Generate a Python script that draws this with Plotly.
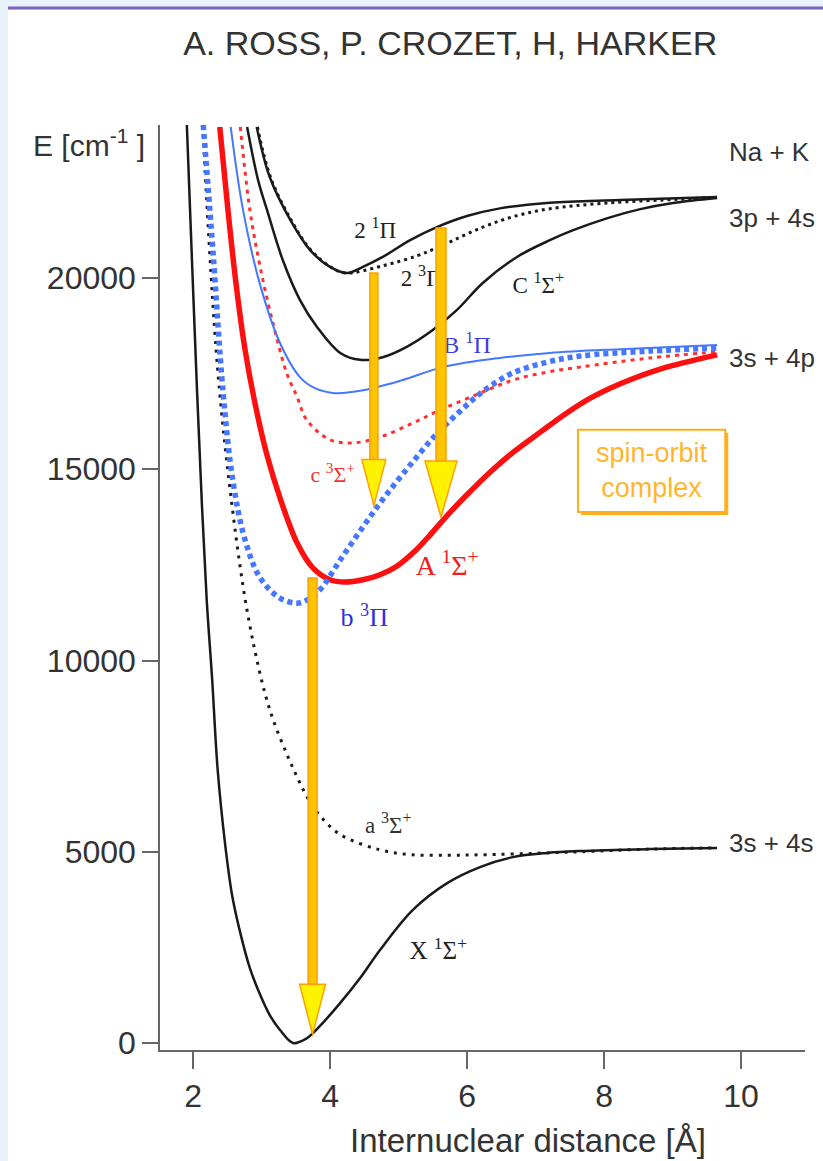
import plotly.graph_objects as go

# ---- potential curves of NaK: r in Angstrom, E in cm-1
X_r = [1.91, 1.99, 2.06, 2.13, 2.20, 2.28, 2.36, 2.47, 2.57, 2.69, 2.83, 2.98, 3.12, 3.27, 3.46, 3.64, 3.85,
       4.15, 4.44, 4.73, 5.21, 5.71, 6.19, 6.67, 7.17, 7.65, 8.67, 9.65]
X_E = [24000, 20210, 16990, 14070, 11580, 9490, 7140, 5180, 3870, 2880, 1960, 1260, 730, 340, 0, 100, 440,
       1050, 1700, 2430, 3480, 4180, 4600, 4860, 4970, 5020, 5070, 5100]

a_r = [2.14, 2.36, 2.58, 2.79, 3.02, 3.17, 3.37, 3.52, 3.66, 3.85, 4.15, 4.73, 5.21, 5.75, 6.19, 7.17, 7.65, 8.67, 9.65]
a_E = [24000, 17600, 13900, 11300, 9350, 8450, 7550, 6950, 6450, 5950, 5450, 5050, 4920, 4910, 4920, 4970, 5000,
       5070, 5100]

b_r = [2.15, 2.29, 2.44, 2.58, 2.76, 2.98, 3.27, 3.52, 3.66, 3.85, 4.15, 4.48, 4.80, 5.17, 5.53, 5.90, 6.26,
       6.67, 7.17, 7.65, 8.67, 9.65]
b_E = [24000, 20730, 16990, 14720, 13150, 12160, 11630, 11500, 11580, 11840, 12630, 13490, 14280, 15110, 15870,
       16520, 17070, 17520, 17800, 17960, 18090, 18170]

A_r = [2.39, 2.51, 2.63, 2.76, 2.91, 3.08, 3.27, 3.52, 3.75, 4.00, 4.22, 4.48, 4.73, 4.98, 5.24, 5.46, 5.68,
       5.97, 6.34, 6.70, 7.07, 7.43, 7.80, 8.23, 8.82, 9.65]
A_E = [23950, 21780, 19820, 18120, 16680, 15370, 14250, 13070, 12420, 12110, 12050, 12110, 12240, 12470, 12860,
       13280, 13730, 14280, 14930, 15480, 15970, 16440, 16860, 17230, 17620, 17990]

B_r = [2.55, 2.73, 2.98, 3.27, 3.56, 3.78, 4.07, 4.44, 5.02, 5.65, 6.48, 7.21, 8.23, 9.65]
B_E = [23950, 21780, 19820, 18300, 17410, 17120, 16990, 17050, 17310, 17670, 17910, 18040, 18140, 18250]

c_r = [2.69, 2.83, 2.98, 3.17, 3.37, 3.52, 3.66, 4.00, 4.34, 4.73, 5.21, 5.61, 6.19, 6.67, 7.17, 7.65, 8.67, 9.65]
c_E = [23950, 21780, 20290, 18800, 17500, 16890, 16290, 15770, 15690, 15840, 16210, 16550, 16990, 17330, 17540,
       17670, 17910, 18070]

C_r = [2.79, 2.95, 3.08, 3.31, 3.56, 3.81, 4.15, 4.44, 4.77, 5.12, 5.50, 5.85, 6.23, 6.73, 7.21, 7.55, 8.04,
       8.53, 9.01, 9.65]
C_E = [23950, 22560, 21780, 20470, 19430, 18720, 18040, 17860, 17930, 18200, 18640, 19160, 19870, 20550, 20990,
       21250, 21560, 21800, 21960, 22090]

P1_r = [2.93, 3.12, 3.42, 3.71, 4.00, 4.25, 4.48, 4.77, 5.17, 5.56, 6.00, 6.48, 7.21, 8.23, 9.65]
P1_E = [23950, 22640, 21520, 20730, 20290, 20130, 20290, 20550, 20990, 21330, 21620, 21820, 21970, 22040, 22120]

P3_r = [2.94, 3.13, 3.43, 3.72, 4.01, 4.22, 4.77, 5.27, 5.65, 6.23, 6.73, 7.21, 8.04, 9.11, 9.65]
P3_E = [23950, 22640, 21520, 20730, 20290, 20130, 20320, 20580, 20860, 21330, 21630, 21810, 21960, 22060, 22110]

# state labels
label_text = ["2 <sup>1</sup>Π", "2 <sup>3</sup>Π", "C <sup>1</sup>Σ<sup>+</sup>", "B <sup>1</sup>Π",
              "c <sup>3</sup>Σ<sup>+</sup>", "A <sup>1</sup>Σ<sup>+</sup>", "b <sup>3</sup>Π",
              "a <sup>3</sup>Σ<sup>+</sup>", "X <sup>1</sup>Σ<sup>+</sup>"]
label_r = [4.66, 5.34, 7.04, 6.00, 4.04, 5.71, 4.50, 4.85, 5.58]
label_E = [21200, 19950, 19770, 18200, 14800, 12420, 11060, 5650, 2350]

# asymptotes
asym_text = ["Na + K", "3p + 4s", "3s + 4p", "3s + 4s"]
asym_E = [23290, 21570, 17910, 5230]

# transitions (arrows)
arrow_r = [4.64, 5.62, 3.745]
arrow_top = [20130, 21310, 12160]
arrow_tip = [14050, 13750, 230]

# ---- styles
PX_X = 1 / 68.5     # Angstrom per pixel
PX_Y = 26.144       # cm-1 per pixel
SANS = "Liberation Sans, Arial, sans-serif"
SERIF = "Liberation Serif, Times New Roman, serif"
RED = "#ff1010"
BLUE = "#4577ff"
BLACK = "#1a1a1a"

fig = go.Figure()


def add_curve(r, E, color, width, dash="solid"):
    fig.add_trace(go.Scatter(x=r, y=E, mode="lines",
                             line=dict(color=color, width=width, dash=dash, shape="spline", smoothing=1),
                             showlegend=False, hoverinfo="skip"))


add_curve(X_r, X_E, BLACK, 2.5)
add_curve(a_r, a_E, BLACK, 3, "3px,6px")
add_curve(c_r, c_E, "#ff3030", 3, "4px,5px")
add_curve(B_r, B_E, BLUE, 2)
add_curve(C_r, C_E, BLACK, 2.5)
add_curve(P3_r, P3_E, BLACK, 3, "3px,4px")
add_curve(P1_r, P1_E, BLACK, 2.5)
add_curve(A_r, A_E, RED, 5.5)
add_curve(b_r, b_E, BLUE, 5.5, "5px,4px")

label_colors = ["#222", "#222", "#222", "#3c3ce8", "#f03030", "#f02020", "#2e2ee8", "#333", "#222"]
label_sizes = [23, 23, 23, 24, 22, 28, 26, 23, 25]
fig.add_trace(go.Scatter(x=label_r, y=label_E, text=label_text, mode="text",
                         textfont=dict(family=SERIF, size=label_sizes, color=label_colors),
                         textposition="middle center", cliponaxis=False,
                         showlegend=False, hoverinfo="skip"))

# arrows: shaft + head
shaft_hw = [4, 5, 4.5]
head_hw = [12, 16, 13]
head_len = [46, 56, 50]
for r, top, tip, sw, hw, hl in zip(arrow_r, arrow_top, arrow_tip, shaft_hw, head_hw, head_len):
    base = tip + hl * PX_Y
    fig.add_shape(type="rect", x0=r - sw * PX_X, x1=r + sw * PX_X, y0=base, y1=top,
                  fillcolor="#ffc400", line=dict(color="#ff9f00", width=1.5), layer="above")
    fig.add_shape(type="path",
                  path=f"M {r - hw * PX_X},{base} L {r + hw * PX_X},{base} L {r},{tip} Z",
                  fillcolor="#fff200", line=dict(color="#ffa000", width=1.5), layer="above")

# spin-orbit complex box
bx0, bx1, by0, by1 = 7.62, 9.77, 13880, 16030
fig.add_shape(type="rect", x0=bx0 + 3 * PX_X, x1=bx1 + 3 * PX_X, y0=by0 - 3 * PX_Y, y1=by1 - 3 * PX_Y,
              fillcolor="#ffb020", line=dict(width=0), layer="above")
fig.add_shape(type="rect", x0=bx0, x1=bx1, y0=by0, y1=by1,
              fillcolor="white", line=dict(color="#ffae1a", width=2), layer="above")
fig.add_annotation(x=(bx0 + bx1) / 2, y=(by0 + by1) / 2, text="spin-orbit<br>complex", showarrow=False,
                   font=dict(family=SANS, size=27, color="#ffb52e"))

for t, e in zip(asym_text, asym_E):
    fig.add_annotation(x=9.80, y=e, text=t, showarrow=False, xanchor="left",
                       font=dict(family=SANS, size=26, color="#333"))

# axis titles
fig.add_annotation(xref="paper", yref="paper", x=-0.02, y=0.9805, xanchor="right", yanchor="middle",
                   text="E [cm<sup>-1</sup> ]", showarrow=False, font=dict(family=SANS, size=30, color="#333"))
fig.add_annotation(xref="paper", yref="paper", x=0.571, y=-0.0973, yanchor="middle",
                   text="Internuclear distance [Å]", showarrow=False, font=dict(family=SANS, size=33, color="#333"))

# slide frame
fig.add_shape(type="rect", xref="paper", yref="paper", x0=-0.2357, x1=1.03, y0=-0.2, y1=1.1243,
              fillcolor="white", line=dict(width=0), layer="below")
fig.add_shape(type="line", xref="paper", yref="paper", x0=-0.2357, x1=1.03, y0=1.1265, y1=1.1265,
              line=dict(color="#7f62bd", width=3), layer="below")

fig.update_layout(
    width=823, height=1161,
    margin=dict(l=160, r=18, t=125, b=111),
    paper_bgcolor="#e9f1fb", plot_bgcolor="white",
    title=dict(text="A. ROSS, P. CROZET, H, HARKER", x=0.547, y=0.963, xanchor="center", yanchor="middle",
               font=dict(family=SANS, size=34, color="#333")),
    xaxis=dict(range=[1.518, 10.934], tickvals=[2, 4, 6, 8, 10], ticks="outside", ticklen=17, tickwidth=1.5,
               tickcolor="#666", showline=True, linecolor="#666", linewidth=1.5, showgrid=False, zeroline=False,
               tickfont=dict(family=SANS, size=32, color="#333")),
    yaxis=dict(range=[-183, 24000], tickvals=[0, 5000, 10000, 15000, 20000], tickformat="d",
               ticks="outside", ticklen=16, tickwidth=1.5, tickcolor="#666", showline=True, linecolor="#666",
               linewidth=1.5, showgrid=False, zeroline=False,
               tickfont=dict(family=SANS, size=32, color="#333")),
)

fig.write_html("out.html", config={"displayModeBar": False},
               post_script="document.body.style.margin = '0px';")
